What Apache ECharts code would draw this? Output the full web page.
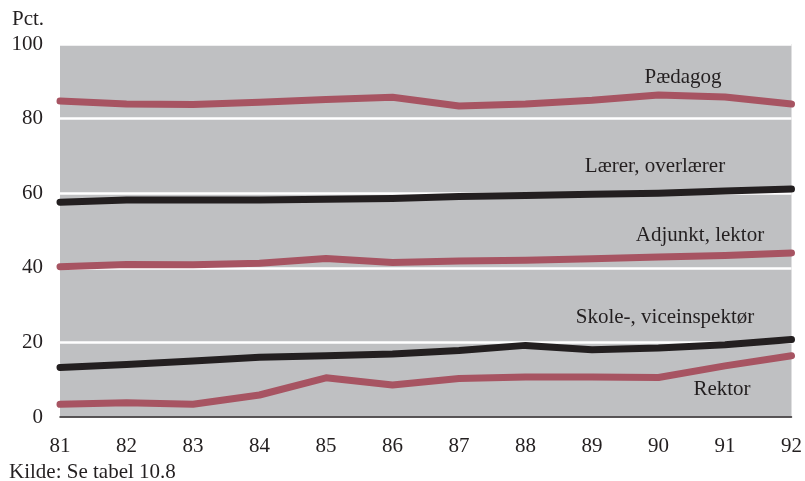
<!DOCTYPE html>
<html><head><meta charset="utf-8">
<script src="https://cdn.jsdelivr.net/npm/echarts@6/dist/echarts.min.js"></script>
<style>html,body{margin:0;padding:0;background:#fff}#c{width:805px;height:481px}</style>
</head><body><div id="c"></div>
<script>
const years = ['81','82','83','84','85','86','87','88','89','90','91','92'];
const paedagog = [84.7,83.9,83.8,84.4,85.1,85.7,83.4,83.9,84.9,86.3,85.8,83.9];
const laerer = [57.6,58.2,58.2,58.2,58.4,58.6,59.1,59.4,59.7,60.0,60.6,61.1];
const adjunkt = [40.3,40.9,40.8,41.2,42.5,41.4,41.8,42.0,42.4,42.9,43.3,44.0];
const skole = [13.3,14.1,15.0,16.0,16.4,16.9,17.8,19.2,18.0,18.5,19.4,20.8];
const rektor = [3.4,3.8,3.4,5.9,10.5,8.6,10.3,10.7,10.7,10.6,13.7,16.4];
const seriesNames = ['Pædagog','Lærer, overlærer','Adjunkt, lektor','Skole-, viceinspektør','Rektor'];

const RED = '#a75462', BLACK = '#231f20';
const font = '"Liberation Serif", "DejaVu Serif", serif';
const chart = echarts.init(document.getElementById('c'));
function mk(name, data, color) {
  return {name, type:'line', data, symbol:'none', smooth:false,
    lineStyle:{color, width:7, cap:'round', join:'round'}, itemStyle:{color}};
}
const lbl = (text, x, y, align) => ({type:'text', x, y,
  style:{text, font:'21px ' + font, fill:'#231f20', textAlign:align || 'center', textVerticalAlign:'middle'}});
chart.setOption({
  animation:false,
  textStyle:{fontFamily:font},
  grid:{left:60, right:10, top:44, bottom:64, show:true, backgroundColor:'#bfc0c2', borderWidth:0},
  xAxis:{type:'category', data:years, boundaryGap:false,
    axisLine:{lineStyle:{color:'#231f20', width:1.5}}, axisTick:{show:false},
    axisLabel:{color:'#231f20', fontSize:21, fontFamily:font, margin:19}},
  yAxis:{type:'value', min:0, max:100, interval:20,
    axisLine:{show:false}, axisTick:{show:false},
    axisLabel:{color:'#231f20', fontSize:21, fontFamily:font, margin:17},
    splitLine:{lineStyle:{color:'#ffffff', width:2.5}}},
  series:[
    mk(seriesNames[0], paedagog, RED),
    mk(seriesNames[1], laerer, BLACK),
    mk(seriesNames[2], adjunkt, RED),
    mk(seriesNames[3], skole, BLACK),
    mk(seriesNames[4], rektor, RED)
  ],
  graphic:[
    lbl('Pct.', 12, 19, 'left'),
    lbl('Kilde: Se tabel 10.8', 9, 472, 'left'),
    lbl(seriesNames[0], 683, 77),
    lbl(seriesNames[1], 655, 166),
    lbl(seriesNames[2], 700, 235),
    lbl(seriesNames[3], 665, 317),
    lbl(seriesNames[4], 722, 389)
  ]
});
</script></body></html>
